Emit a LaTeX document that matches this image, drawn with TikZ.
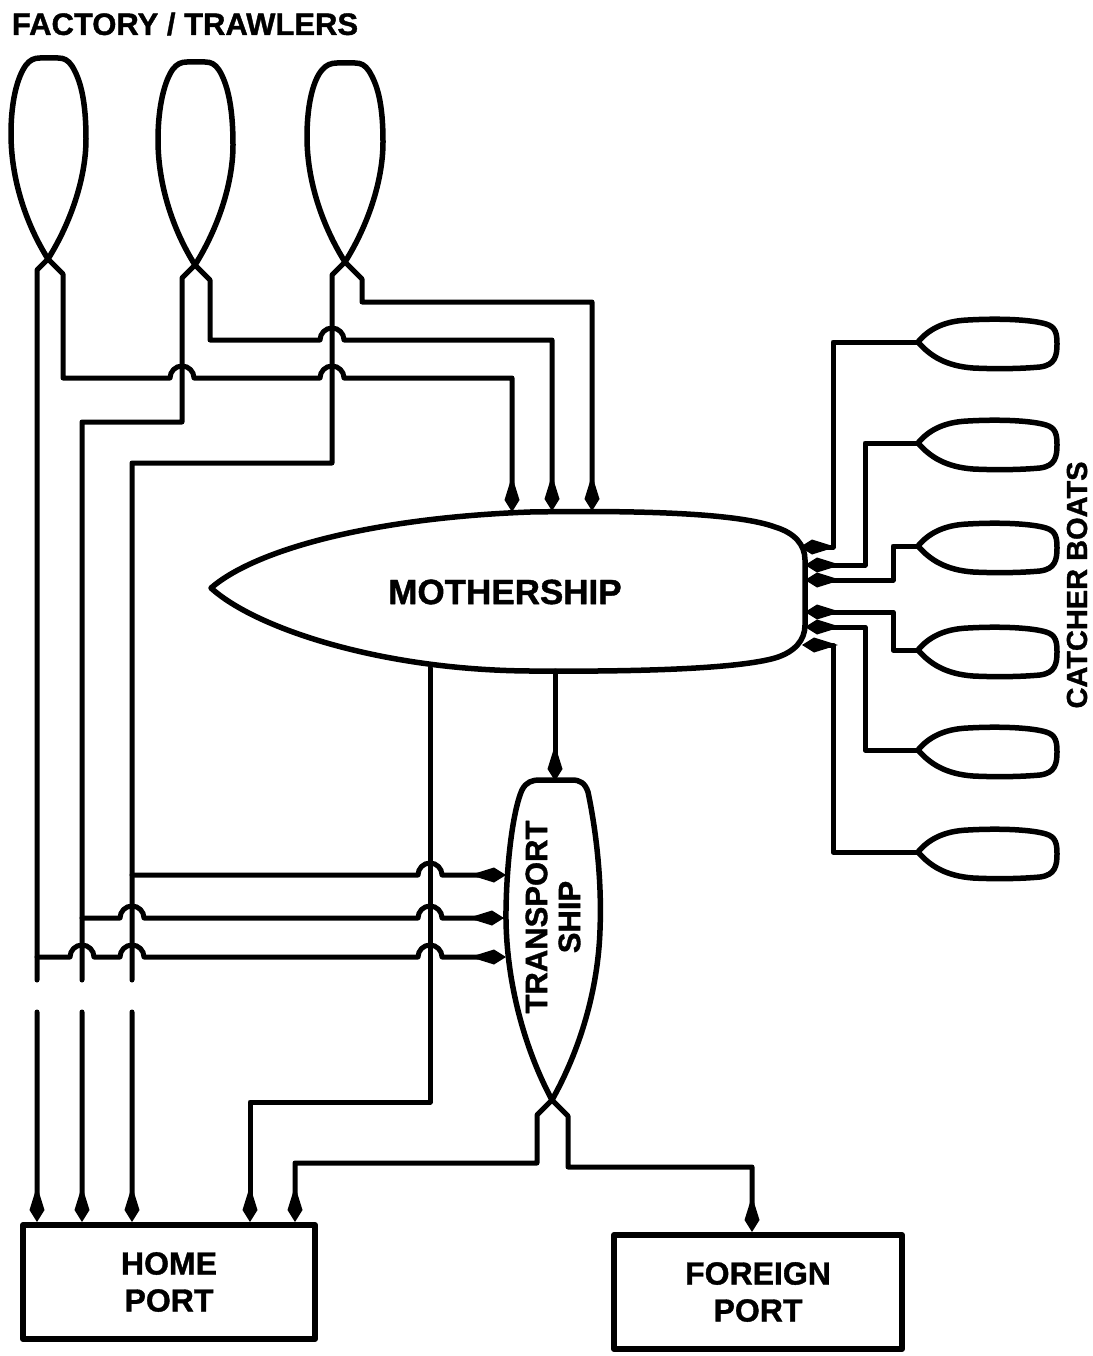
\documentclass[tikz,border=0pt]{standalone}
\usepackage{fontspec}
\setmainfont{Liberation Sans}[BoldFeatures={FakeBold=1.2}]
\usetikzlibrary{arrows.meta}

\begin{document}
\begin{tikzpicture}[x=1pt,y=-1pt,line cap=round,line join=round,
  hull/.style={draw=black,line width=5.5pt},
  flow/.style={draw=black,line width=5pt,-{Kite[length=36pt,width=15pt,inset=24pt]}},
  port/.style={draw=black,line width=6pt,minimum width=292pt,minimum height=114pt,align=center,font=\fontsize{32}{37}\selectfont\bfseries},
  lab/.style={font=\fontsize{32}{34}\selectfont\bfseries,align=center,inner sep=0pt}]
\path[use as bounding box] (0,0) rectangle (1092,1356);
\draw[hull,shift={(48,259)}] (0,0) .. controls (-22,-35) and (-37,-80) .. (-37,-125) .. controls (-37,-160) and (-30,-183) .. (-22,-194) .. controls (-18,-199) and (-14,-201) .. (-8,-201) -- (10,-201) .. controls (16,-201) and (20,-199) .. (24,-193) .. controls (32,-180) and (38,-160) .. (38,-120) .. controls (38,-80) and (22,-35) .. cycle;
\draw[hull,shift={(195,265)}] (0,0) .. controls (-22,-35) and (-37,-80) .. (-37,-125) .. controls (-37,-160) and (-30,-185) .. (-22,-196) .. controls (-18,-201) and (-14,-203) .. (-8,-203) -- (10,-203) .. controls (16,-203) and (20,-201) .. (24,-195) .. controls (32,-182) and (38,-160) .. (38,-120) .. controls (38,-80) and (22,-35) .. cycle;
\draw[hull,shift={(345,262)}] (0,0) .. controls (-22,-35) and (-38,-80) .. (-38,-125) .. controls (-38,-160) and (-31,-183) .. (-23,-192) .. controls (-19,-197) and (-14,-199) .. (-8,-199) -- (10,-199) .. controls (16,-199) and (20,-197) .. (24,-191) .. controls (32,-178) and (38,-160) .. (38,-120) .. controls (38,-80) and (22,-35) .. cycle;
\draw[hull] (211,588) .. controls (255,550) and (370,518) .. (530,512) .. controls (650,510) and (740,514) .. (775,527) .. controls (795,533) and (805,545) .. (805,560) -- (805,625) .. controls (805,640) and (795,652) .. (775,658) .. controls (740,668) and (650,672) .. (530,671) .. controls (380,670) and (255,628) .. cycle;
\draw[hull] (552,1100) .. controls (525,1050) and (505,980) .. (506,910) .. controls (507,850) and (515,805) .. (522,790) .. controls (526,782) and (532,780) .. (540,780) -- (572,780) .. controls (580,780) and (585,783) .. (588,792) .. controls (596,830) and (602,880) .. (600,930) .. controls (598,990) and (580,1050) .. cycle;
\draw[hull,shift={(918,342)}] (0,0) .. controls (10,-12) and (25,-21) .. (50,-22) .. controls (85,-24) and (115,-22) .. (128,-18) .. controls (138,-15) and (139,-8) .. (139,2) .. controls (139,14) and (137,23) .. (122,25) .. controls (100,27) and (75,27) .. (55,26) .. controls (28,24) and (12,14) .. cycle;
\draw[hull,shift={(918,443)}] (0,0) .. controls (10,-12) and (25,-21) .. (50,-22) .. controls (85,-24) and (115,-22) .. (128,-18) .. controls (138,-15) and (139,-8) .. (139,2) .. controls (139,14) and (137,23) .. (122,25) .. controls (100,27) and (75,27) .. (55,26) .. controls (28,24) and (12,14) .. cycle;
\draw[hull,shift={(918,546)}] (0,0) .. controls (10,-12) and (25,-21) .. (50,-22) .. controls (85,-24) and (115,-22) .. (128,-18) .. controls (138,-15) and (139,-8) .. (139,2) .. controls (139,14) and (137,23) .. (122,25) .. controls (100,27) and (75,27) .. (55,26) .. controls (28,24) and (12,14) .. cycle;
\draw[hull,shift={(918,650)}] (0,0) .. controls (10,-12) and (25,-21) .. (50,-22) .. controls (85,-24) and (115,-22) .. (128,-18) .. controls (138,-15) and (139,-8) .. (139,2) .. controls (139,14) and (137,23) .. (122,25) .. controls (100,27) and (75,27) .. (55,26) .. controls (28,24) and (12,14) .. cycle;
\draw[hull,shift={(918,750)}] (0,0) .. controls (10,-12) and (25,-21) .. (50,-22) .. controls (85,-24) and (115,-22) .. (128,-18) .. controls (138,-15) and (139,-8) .. (139,2) .. controls (139,14) and (137,23) .. (122,25) .. controls (100,27) and (75,27) .. (55,26) .. controls (28,24) and (12,14) .. cycle;
\draw[hull,shift={(918,852)}] (0,0) .. controls (10,-12) and (25,-21) .. (50,-22) .. controls (85,-24) and (115,-22) .. (128,-18) .. controls (138,-15) and (139,-8) .. (139,2) .. controls (139,14) and (137,23) .. (122,25) .. controls (100,27) and (75,27) .. (55,26) .. controls (28,24) and (12,14) .. cycle;
\coordinate (t1) at (48,259);
\coordinate (t2) at (195,265);
\coordinate (t3) at (345,262);
\coordinate (m1) at (512,512);
\coordinate (m2) at (552,511);
\coordinate (m3) at (592,511);
\coordinate (mb1) at (430,668);
\coordinate (mb2) at (555,671);
\coordinate (s1) at (800,547);
\coordinate (s2) at (805,565);
\coordinate (s3) at (805,580);
\coordinate (s4) at (805,612);
\coordinate (s5) at (805,627);
\coordinate (s6) at (802,645);
\coordinate (c1) at (918,342);
\coordinate (c2) at (918,443);
\coordinate (c3) at (918,546);
\coordinate (c4) at (918,650);
\coordinate (c5) at (918,750);
\coordinate (c6) at (918,852);
\coordinate (tstop) at (555,781);
\coordinate (tsx) at (552,1100);
\coordinate (tp1) at (506,875);
\coordinate (tp2) at (504,918);
\coordinate (tp3) at (506,957);
\coordinate (j1) at (37,957);
\coordinate (j2) at (82,918);
\coordinate (j3) at (132,875);
\coordinate (q1) at (250,1102);
\coordinate (q2) at (295,1163);
\coordinate (q3) at (752,1167);
\node[port] (home) at (169,1282) {HOME\\PORT};
\node[port,minimum width=288pt] (foreign) at (758,1292) {FOREIGN\\PORT};
\node[lab,font=\fontsize{31}{36}\selectfont\bfseries] (title) at (185,24) {FACTORY / TRAWLERS};
\node[lab,font=\fontsize{35}{36}\selectfont\bfseries] (msl) at (505,592) {MOTHERSHIP};
\node[lab,rotate=90,font=\fontsize{31}{33}\selectfont\bfseries] (tsl) at (553,917) {TRANSPORT\\SHIP};
\node[lab,rotate=90,font=\fontsize{29}{33}\selectfont\bfseries] (cbl) at (1077,585) {CATCHER BOATS};
\draw[flow] (t3) -- (362,279) -- (362,302) -- (592,302) -- (m3);
\draw[flow] (t2) -- (210,280) -- (210,340) -- (320,340) arc[start angle=180,end angle=0,radius=12pt] -- (552,340) -- (m2);
\draw[flow] (t1) -- (63,274) -- (63,378) -- (170,378) arc[start angle=180,end angle=0,radius=12pt] -- (320,378) arc[start angle=180,end angle=0,radius=12pt] -- (512,378) -- (m1);
\draw[flow] (t1) -- (37,270) -- (37,980) (37,1012) -- (j1 |- home.north);
\draw[flow] (t2) -- (182,278) -- (182,422) -- (82,422) -- (82,980) (82,1012) -- (j2 |- home.north);
\draw[flow] (t3) -- (332,275) -- (332,463) -- (132,463) -- (132,980) (132,1012) -- (j3 |- home.north);
\draw[flow] (j3) -- (418,875) arc[start angle=180,end angle=0,radius=12pt] -- (tp1);
\draw[flow] (j2) -- (120,918) arc[start angle=180,end angle=0,radius=12pt] -- (418,918) arc[start angle=180,end angle=0,radius=12pt] -- (tp2);
\draw[flow] (j1) -- (70,957) arc[start angle=180,end angle=0,radius=12pt] -- (120,957) arc[start angle=180,end angle=0,radius=12pt] -- (418,957) arc[start angle=180,end angle=0,radius=12pt] -- (tp3);
\draw[flow] (mb2) -- (tstop);
\draw[flow] (mb1) -- (430,1102) -- (q1) -- (q1 |- home.north);
\draw[flow] (tsx) -- (537,1115) -- (537,1163) -- (q2) -- (q2 |- home.north);
\draw[flow] (tsx) -- (568,1116) -- (568,1167) -- (q3) -- (q3 |- foreign.north);
\draw[flow] (c1) -- (833,342) -- (833,547) -- (s1);
\draw[flow] (c2) -- (865,443) -- (865,565) -- (s2);
\draw[flow] (c3) -- (893,546) -- (893,580) -- (s3);
\draw[flow] (c4) -- (893,650) -- (893,612) -- (s4);
\draw[flow] (c5) -- (865,750) -- (865,627) -- (s5);
\draw[flow] (c6) -- (833,852) -- (833,645) -- (s6);
\end{tikzpicture}
\end{document}
